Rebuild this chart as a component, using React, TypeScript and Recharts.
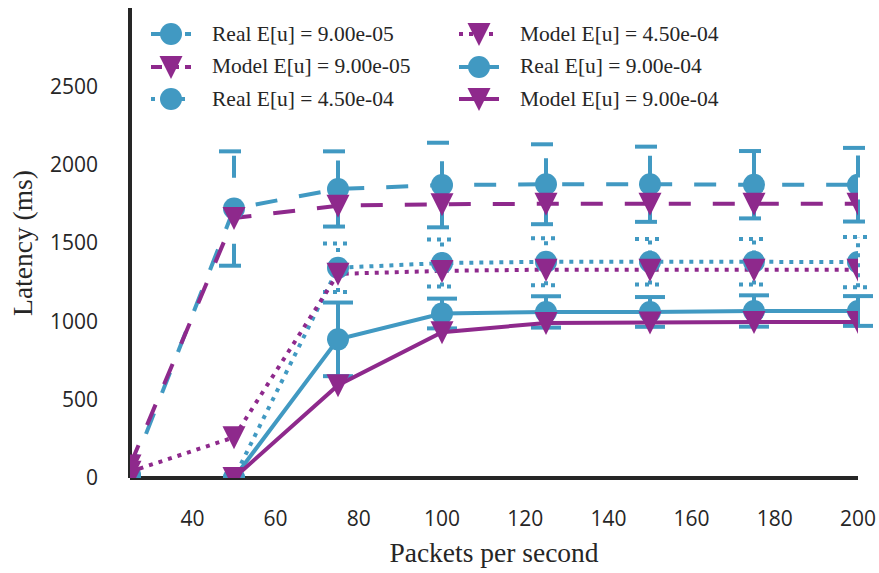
import { LineChart, Line, XAxis, YAxis, ErrorBar, Legend } from "recharts";

const BLUE = "#4199c2";
const PURPLE = "#8e298c";
const INK = "#262626";

// packets per second
const pps = [25, 50, 75, 100, 125, 150, 175, 200];

// latency (ms)
const real9e5 = [20, 1720, 1845, 1870, 1875, 1875, 1872, 1872];
const real9e5Err = [0, 365, 240, 270, 255, 240, 215, 235];
const model9e5 = [80, 1660, 1738, 1748, 1750, 1750, 1750, 1750];
const real45e4 = [0, 0, 1342, 1372, 1380, 1380, 1380, 1378];
const real45e4Err = [0, 0, 155, 150, 150, 145, 145, 160];
const model45e4 = [40, 260, 1303, 1322, 1330, 1330, 1330, 1330];
const real9e4 = [0, 0, 885, 1050, 1060, 1060, 1066, 1066];
const real9e4Err = [0, 0, 235, 95, 100, 95, 100, 95];
const model9e4 = [0, 0, 592, 930, 990, 992, 995, 995];

const xTicks = [40, 60, 80, 100, 120, 140, 160, 180, 200];
const yTicks = [0, 500, 1000, 1500, 2000, 2500];

const data = pps.map((x, i) => ({
  x,
  real9e5: real9e5[i],
  real9e5Err: real9e5Err[i],
  model9e5: model9e5[i],
  real45e4: real45e4[i],
  real45e4Err: real45e4Err[i],
  model45e4: model45e4[i],
  real9e4: real9e4[i],
  real9e4Err: real9e4Err[i],
  model9e4: model9e4[i],
}));

const DASH = "22 22";
const DOT = "4 6";

type Series = { key: string; name: string; color: string; dash?: string; marker: "circle" | "tri"; err?: string };

const series: Series[] = [
  { key: "real9e5", name: "Real E[u] = 9.00e-05", color: BLUE, dash: DASH, marker: "circle", err: "real9e5Err" },
  { key: "model9e5", name: "Model E[u] = 9.00e-05", color: PURPLE, dash: DASH, marker: "tri" },
  { key: "real45e4", name: "Real E[u] = 4.50e-04", color: BLUE, dash: DOT, marker: "circle", err: "real45e4Err" },
  { key: "model45e4", name: "Model E[u] = 4.50e-04", color: PURPLE, dash: DOT, marker: "tri" },
  { key: "real9e4", name: "Real E[u] = 9.00e-04", color: BLUE, marker: "circle", err: "real9e4Err" },
  { key: "model9e4", name: "Model E[u] = 9.00e-04", color: PURPLE, marker: "tri" },
];

const Marker = ({ cx, cy, kind, color }: { cx: number; cy: number; kind: string; color: string }) =>
  kind === "circle" ? (
    <circle cx={cx} cy={cy} r={11} fill={color} stroke="none" />
  ) : (
    <polygon points={`${cx - 11.5},${cy - 11} ${cx + 11.5},${cy - 11} ${cx},${cy + 12}`} fill={color} stroke="none" />
  );

const LegendBox = () => (
  <div
    style={{
      display: "grid",
      gridTemplateColumns: "308px 300px",
      gridAutoFlow: "column",
      gridTemplateRows: "repeat(3, 32.5px)",
      fontFamily: "'Liberation Serif', 'DejaVu Serif', serif",
      fontSize: 21.5,
      color: INK,
    }}
  >
    {series.map((s) => (
      <div key={s.key} style={{ display: "flex", alignItems: "center", height: 32.5, whiteSpace: "nowrap" }}>
        <svg width={60} height={30} style={{ marginRight: 20, flex: "none" }}>
          <line x1={19} y1={15} x2={59} y2={15} stroke={s.color} strokeWidth={4} strokeDasharray={s.dash === DASH ? "11 6" : s.dash} />
          <Marker cx={39} cy={15} kind={s.marker} color={s.color} />
        </svg>
        <span>{s.name}</span>
      </div>
    ))}
  </div>
);

const tickStyle = { fontFamily: "'Open Sans', 'DejaVu Sans', sans-serif", fontSize: 21, fill: INK };
const titleStyle = { fontFamily: "'Liberation Serif', 'DejaVu Serif', serif", fontSize: 27.5, fill: INK };

export default function App() {
  return (
    <div style={{ position: "absolute", left: 0, top: 0, background: "#fff" }}>
      <LineChart width={879} height={573} data={data} margin={{ top: 8, right: 21, left: 0, bottom: 0 }}>
        <XAxis
          dataKey="x"
          type="number"
          domain={[25, 200]}
          ticks={xTicks}
          allowDataOverflow
          axisLine={{ stroke: INK, strokeWidth: 4 }}
          tickLine={false}
          tickMargin={27}
          tick={tickStyle}
          height={95}
          label={{ value: "Packets per second", position: "insideBottom", offset: 11, style: titleStyle }}
        />
        <YAxis
          type="number"
          domain={[0, 3000]}
          ticks={yTicks}
          allowDataOverflow
          axisLine={{ stroke: INK, strokeWidth: 4 }}
          tickLine={false}
          tickMargin={26}
          tick={tickStyle}
          width={130}
          label={{ value: "Latency (ms)", angle: -90, position: "insideLeft", offset: 22, style: { ...titleStyle, textAnchor: "middle" } }}
        />
        <Legend
          layout="horizontal"
          verticalAlign="middle"
          align="center"
          wrapperStyle={{ top: 18, left: 132, width: 620 }}
          content={() => <LegendBox />}
        />
        {series.map((s) => (
          <Line
            key={s.key}
            dataKey={s.key}
            name={s.name}
            stroke={s.color}
            strokeWidth={4}
            strokeDasharray={s.dash}
            isAnimationActive={false}
            dot={(p: any) => <Marker key={`${s.key}-${p.index}`} cx={p.cx} cy={p.cy} kind={s.marker} color={s.color} />}
            activeDot={false}
          >
            {s.err && (
              <ErrorBar dataKey={s.err} direction="y" width={15} stroke={s.color} strokeWidth={4} strokeDasharray={s.dash} />
            )}
          </Line>
        ))}
      </LineChart>
    </div>
  );
}
